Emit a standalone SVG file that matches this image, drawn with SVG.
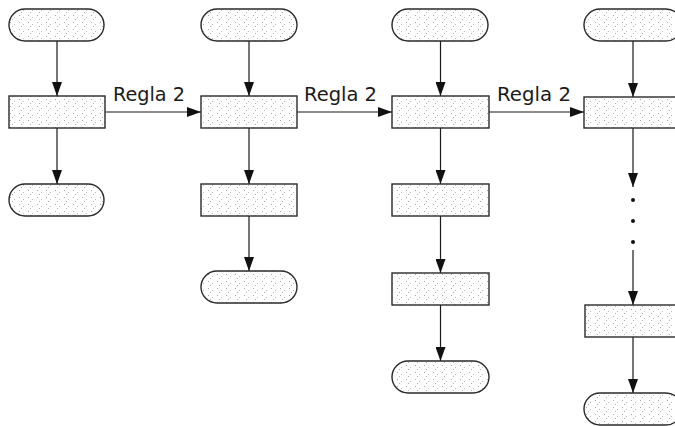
<svg xmlns="http://www.w3.org/2000/svg" width="675" height="426" viewBox="0 0 675 426">
<style>
.box{fill:url(#speckle);stroke:#2a2a2a;stroke-width:1.4}
.conn{stroke:#1a1a1a;stroke-width:1.2;fill:none}
.lbl{font-family:"DejaVu Sans",sans-serif;font-size:19px;fill:#1a1a1a}
.dot{fill:#111}
</style>
<defs>
<pattern id="speckle" width="9" height="7" patternUnits="userSpaceOnUse">
<rect width="9" height="7" fill="#ffffff"/>
<rect x="1" y="1" width="1" height="1" fill="#a8a8a8"/>
<rect x="5" y="3" width="1" height="1" fill="#bcbcbc"/>
<rect x="3" y="5" width="1" height="1" fill="#b0b0b0"/>
</pattern>
<marker id="arr" markerWidth="14" markerHeight="10" refX="14" refY="5" orient="auto" markerUnits="userSpaceOnUse">
<path d="M0,0 L14,5 L0,10 Z" fill="#111"/>
</marker>
</defs>
<g id="connectors">
<line class="conn" x1="57" y1="41" x2="57" y2="96" marker-end="url(#arr)"/>
<line class="conn" x1="57" y1="128" x2="57" y2="184" marker-end="url(#arr)"/>
<line class="conn" x1="105" y1="112" x2="201" y2="112" marker-end="url(#arr)"/>
<line class="conn" x1="249" y1="41" x2="249" y2="96" marker-end="url(#arr)"/>
<line class="conn" x1="249" y1="128" x2="249" y2="184" marker-end="url(#arr)"/>
<line class="conn" x1="249" y1="216" x2="249" y2="271" marker-end="url(#arr)"/>
<line class="conn" x1="297" y1="112" x2="392" y2="112" marker-end="url(#arr)"/>
<line class="conn" x1="440.5" y1="41" x2="440.5" y2="96" marker-end="url(#arr)"/>
<line class="conn" x1="440.5" y1="128" x2="440.5" y2="184" marker-end="url(#arr)"/>
<line class="conn" x1="440.5" y1="216" x2="440.5" y2="273" marker-end="url(#arr)"/>
<line class="conn" x1="440.5" y1="305" x2="440.5" y2="361" marker-end="url(#arr)"/>
<line class="conn" x1="489" y1="112" x2="584" y2="112" marker-end="url(#arr)"/>
<line class="conn" x1="633" y1="41" x2="633" y2="97" marker-end="url(#arr)"/>
<line class="conn" x1="633" y1="128" x2="633" y2="187" marker-end="url(#arr)"/>
<circle class="dot" cx="633" cy="200" r="2"/>
<circle class="dot" cx="633" cy="221" r="2"/>
<circle class="dot" cx="633" cy="242" r="2"/>
<line class="conn" x1="633" y1="250" x2="633" y2="305" marker-end="url(#arr)"/>
<line class="conn" x1="633" y1="337" x2="633" y2="393" marker-end="url(#arr)"/>
<text class="lbl" x="113" y="101" textLength="72" lengthAdjust="spacingAndGlyphs">Regla 2</text>
<text class="lbl" x="304" y="101" textLength="73" lengthAdjust="spacingAndGlyphs">Regla 2</text>
<text class="lbl" x="497" y="101" textLength="74" lengthAdjust="spacingAndGlyphs">Regla 2</text>
</g>
<g id="c1-start"><rect class="box" x="9" y="9" width="95" height="32" rx="16"/></g>
<g id="c1-step"><rect class="box" x="9" y="96" width="96" height="32"/></g>
<g id="c1-end"><rect class="box" x="9" y="184" width="95" height="32" rx="16"/></g>
<g id="c2-start"><rect class="box" x="201" y="9" width="96" height="32" rx="16"/></g>
<g id="c2-step1"><rect class="box" x="201" y="96" width="96" height="32"/></g>
<g id="c2-step2"><rect class="box" x="201" y="184" width="96" height="32"/></g>
<g id="c2-end"><rect class="box" x="201" y="271" width="96" height="32" rx="16"/></g>
<g id="c3-start"><rect class="box" x="392" y="9" width="96" height="32" rx="16"/></g>
<g id="c3-step1"><rect class="box" x="392" y="96" width="97" height="32"/></g>
<g id="c3-step2"><rect class="box" x="392" y="184" width="97" height="32"/></g>
<g id="c3-step3"><rect class="box" x="392" y="273" width="97" height="32"/></g>
<g id="c3-end"><rect class="box" x="392" y="361" width="97" height="32" rx="16"/></g>
<g id="c4-start"><rect class="box" x="584" y="9" width="98" height="32" rx="16"/></g>
<g id="c4-step1"><rect class="box" x="584" y="97" width="98" height="31"/></g>
<g id="c4-stepn"><rect class="box" x="585" y="305" width="97" height="32"/></g>
<g id="c4-end"><rect class="box" x="584" y="393" width="98" height="32" rx="16"/></g>
</svg>
